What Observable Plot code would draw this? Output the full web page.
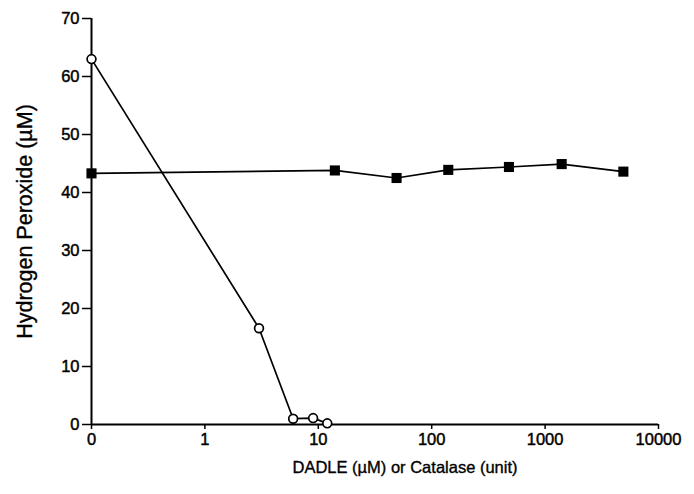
<!DOCTYPE html>
<html><head><meta charset="utf-8">
<script src="https://cdn.jsdelivr.net/npm/d3@7"></script>
<script src="https://cdn.jsdelivr.net/npm/@observablehq/plot@0.6"></script>
<style>body{margin:0;background:#fff}</style>
</head><body><div id="chart"></div>
<script>
const xTicks = [0.1, 1, 10, 100, 1000, 10000];
const xTickLabels = ["0", "1", "10", "100", "1000", "10000"];
const yTicks = [0, 10, 20, 30, 40, 50, 60, 70];
const dadleX = [0.1, 3, 6, 9, 12];
const dadleY = [63, 16.6, 1.0, 1.1, 0.2];
const dadleErr = [0, 0.6, 0, 0, 0];
const catalaseX = [0.1, 14, 49, 140, 480, 1400, 4900];
const catalaseY = [43.3, 43.8, 42.5, 43.9, 44.4, 44.9, 43.6];
const xLabel = "DADLE (\u00b5M) or Catalase (unit)";
const yLabel = "Hydrogen Peroxide (\u00b5M)";

const dadle = dadleX.map((x, i) => ({x, y: dadleY[i], e: dadleErr[i]}));
const catalase = catalaseX.map((x, i) => ({x, y: catalaseY[i]}));

const chart = Plot.plot({
  width: 694,
  height: 494,
  marginLeft: 91,
  marginRight: 36,
  marginTop: 18,
  marginBottom: 70,
  style: {fontFamily: "'Liberation Sans', Arial, sans-serif", fontSize: "16.5px", color: "#000", background: "#fff"},
  x: {type: "log", domain: [0.1, 10000]},
  y: {domain: [0, 70]},
  marks: [
    Plot.axisX({ticks: xTicks, tickFormat: (d) => xTickLabels[xTicks.indexOf(d)], tickSize: 5, tickPadding: 4,
      label: null, fontSize: 16.5, stroke: "#000", strokeWidth: 1.5, textStroke: "#000", textStrokeWidth: 0.45}),
    Plot.axisY({ticks: yTicks, tickSize: 9, tickPadding: 3, label: null, fontSize: 16.5, stroke: "#000", strokeWidth: 1.5,
      textStroke: "#000", textStrokeWidth: 0.45}),
    Plot.text([yLabel], {frameAnchor: "left", textAnchor: "middle", rotate: -90, dx: -66, fontSize: 21.5, fill: "#000",
      stroke: "#000", strokeWidth: 0.35}),
    Plot.text([xLabel], {frameAnchor: "bottom", textAnchor: "middle", dx: 30, dy: 48, fontSize: 16.5, fill: "#000",
      stroke: "#000", strokeWidth: 0.35}),
    Plot.ruleY([0], {stroke: "#000", strokeWidth: 2}),
    Plot.ruleX([0.1], {y1: 0, y2: 70, stroke: "#000", strokeWidth: 2}),
    Plot.line(catalase, {x: "x", y: "y", stroke: "#000", strokeWidth: 1.7}),
    Plot.dot(catalase, {x: "x", y: "y", symbol: "square", r: 5.7, fill: "#000", stroke: "none"}),
    Plot.line(dadle, {x: "x", y: "y", stroke: "#000", strokeWidth: 1.7}),
    Plot.ruleX(dadle.filter(d => d.e > 0), {x: "x", y1: d => d.y - d.e, y2: d => d.y + d.e, stroke: "#000", strokeWidth: 1.5}),
    Plot.dot(dadle, {x: "x", y: "y", r: 4.4, fill: "#fff", stroke: "#000", strokeWidth: 1.7})
  ]
});
document.getElementById("chart").appendChild(chart);
</script>
</body></html>
